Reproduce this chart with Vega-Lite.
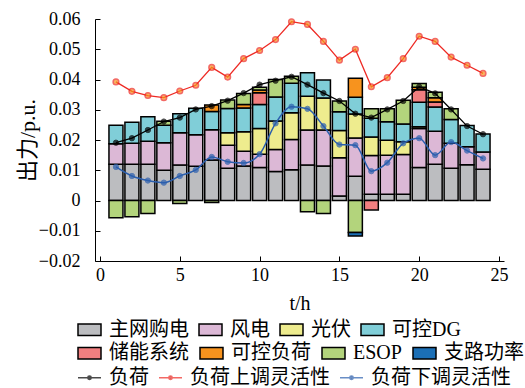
{
  "$schema": "https://vega.github.io/schema/vega-lite/v6.json",
  "autosize": {"type": "none"},
  "width": 409,
  "height": 242,
  "padding": {"left": 95, "top": 19, "right": 21, "bottom": 127},
  "background": "white",
  "config": {
    "view": {"stroke": null},
    "font": "'Liberation Serif', 'Noto Sans CJK SC'",
    "axis": {"grid": false, "domainColor": "black", "tickColor": "black", "labelColor": "black", "titleColor": "black", "labelFont": "'Liberation Serif'", "titleFont": "'Liberation Serif', 'Noto Sans CJK SC'", "labelFontSize": 18, "titleFontWeight": "normal", "domainWidth": 1, "tickWidth": 1},
    "legend": {"title": null, "orient": "none", "direction": "horizontal", "labelFont": "'Liberation Serif', 'Noto Sans CJK SC'", "labelFontSize": 20, "labelColor": "black", "labelOffset": 7, "columnPadding": 7, "padding": 0, "labelLimit": 200, "symbolSize": 529}
  },
  "datasets": {
    "bars": [
      {"h":1,"comp":"主网购电","k":0,"v":0.012},{"h":1,"comp":"风电","k":1,"v":0.0068},{"h":1,"comp":"可控DG","k":3,"v":0.0061},{"h":1,"comp":"ESOP","k":6,"v":-0.0057},
      {"h":2,"comp":"主网购电","k":0,"v":0.012},{"h":2,"comp":"风电","k":1,"v":0.0069},{"h":2,"comp":"可控DG","k":3,"v":0.007},{"h":2,"comp":"ESOP","k":6,"v":-0.0054},
      {"h":3,"comp":"主网购电","k":0,"v":0.012},{"h":3,"comp":"风电","k":1,"v":0.0076},{"h":3,"comp":"可控DG","k":3,"v":0.0081},{"h":3,"comp":"ESOP","k":6,"v":-0.0043},
      {"h":4,"comp":"主网购电","k":0,"v":0.010},{"h":4,"comp":"风电","k":1,"v":0.0091},{"h":4,"comp":"可控DG","k":3,"v":0.0058},{"h":4,"comp":"ESOP","k":6,"v":0.0013},
      {"h":5,"comp":"主网购电","k":0,"v":0.0117},{"h":5,"comp":"风电","k":1,"v":0.0107},{"h":5,"comp":"可控DG","k":3,"v":0.0063},{"h":5,"comp":"ESOP","k":6,"v":-0.001},
      {"h":6,"comp":"主网购电","k":0,"v":0.0113},{"h":6,"comp":"风电","k":1,"v":0.0104},{"h":6,"comp":"可控DG","k":3,"v":0.0088},
      {"h":7,"comp":"主网购电","k":0,"v":0.0134},{"h":7,"comp":"风电","k":1,"v":0.010},{"h":7,"comp":"可控DG","k":3,"v":0.006},{"h":7,"comp":"可控负荷","k":5,"v":0.0022},{"h":7,"comp":"ESOP","k":6,"v":-0.0007},
      {"h":8,"comp":"主网购电","k":0,"v":0.0107},{"h":8,"comp":"风电","k":1,"v":0.0076},{"h":8,"comp":"光伏","k":2,"v":0.0041},{"h":8,"comp":"可控DG","k":3,"v":0.008},{"h":8,"comp":"ESOP","k":6,"v":0.0028},
      {"h":9,"comp":"主网购电","k":0,"v":0.0114},{"h":9,"comp":"风电","k":1,"v":0.0049},{"h":9,"comp":"光伏","k":2,"v":0.0064},{"h":9,"comp":"可控DG","k":3,"v":0.0079},{"h":9,"comp":"可控负荷","k":5,"v":0.0011},{"h":9,"comp":"ESOP","k":6,"v":0.0037},
      {"h":10,"comp":"主网购电","k":0,"v":0.0109},{"h":10,"comp":"风电","k":1,"v":0.0044},{"h":10,"comp":"光伏","k":2,"v":0.0085},{"h":10,"comp":"可控DG","k":3,"v":0.0079},{"h":10,"comp":"储能系统","k":4,"v":0.0039},{"h":10,"comp":"可控负荷","k":5,"v":0.0009},{"h":10,"comp":"ESOP","k":6,"v":0.0009},
      {"h":11,"comp":"主网购电","k":0,"v":0.0096},{"h":11,"comp":"风电","k":1,"v":0.0073},{"h":11,"comp":"光伏","k":2,"v":0.0094},{"h":11,"comp":"可控DG","k":3,"v":0.0079},{"h":11,"comp":"ESOP","k":6,"v":0.0058},
      {"h":12,"comp":"主网购电","k":0,"v":0.0102},{"h":12,"comp":"风电","k":1,"v":0.010},{"h":12,"comp":"光伏","k":2,"v":0.0088},{"h":12,"comp":"可控DG","k":3,"v":0.0098},{"h":12,"comp":"ESOP","k":6,"v":0.0023},
      {"h":13,"comp":"主网购电","k":0,"v":0.0117},{"h":13,"comp":"风电","k":1,"v":0.0116},{"h":13,"comp":"光伏","k":2,"v":0.0112},{"h":13,"comp":"可控DG","k":3,"v":0.0077},{"h":13,"comp":"ESOP","k":6,"v":-0.0037},
      {"h":14,"comp":"主网购电","k":0,"v":0.0114},{"h":14,"comp":"风电","k":1,"v":0.0119},{"h":14,"comp":"光伏","k":2,"v":0.0106},{"h":14,"comp":"可控DG","k":3,"v":0.0059},{"h":14,"comp":"ESOP","k":6,"v":-0.0043},
      {"h":15,"comp":"主网购电","k":0,"v":0.0015},{"h":15,"comp":"风电","k":1,"v":0.0126},{"h":15,"comp":"光伏","k":2,"v":0.009},{"h":15,"comp":"可控DG","k":3,"v":0.0062},{"h":15,"comp":"ESOP","k":6,"v":0.0036},
      {"h":16,"comp":"主网购电","k":0,"v":0.008},{"h":16,"comp":"风电","k":1,"v":0.0127},{"h":16,"comp":"光伏","k":2,"v":0.0079},{"h":16,"comp":"可控DG","k":3,"v":0.0055},{"h":16,"comp":"可控负荷","k":5,"v":0.0063},{"h":16,"comp":"ESOP","k":6,"v":-0.0106},{"h":16,"comp":"支路功率","k":7,"v":-0.0011},
      {"h":17,"comp":"主网购电","k":0,"v":0.0021},{"h":17,"comp":"风电","k":1,"v":0.0128},{"h":17,"comp":"光伏","k":2,"v":0.0061},{"h":17,"comp":"可控DG","k":3,"v":0.0062},{"h":17,"comp":"储能系统","k":4,"v":-0.0031},{"h":17,"comp":"ESOP","k":6,"v":0.0031},
      {"h":18,"comp":"主网购电","k":0,"v":0.0021},{"h":18,"comp":"风电","k":1,"v":0.0129},{"h":18,"comp":"光伏","k":2,"v":0.0049},{"h":18,"comp":"可控DG","k":3,"v":0.0061},{"h":18,"comp":"ESOP","k":6,"v":0.0043},
      {"h":19,"comp":"主网购电","k":0,"v":0.0021},{"h":19,"comp":"风电","k":1,"v":0.0131},{"h":19,"comp":"光伏","k":2,"v":0.0042},{"h":19,"comp":"可控DG","k":3,"v":0.0059},{"h":19,"comp":"ESOP","k":6,"v":0.0078},
      {"h":20,"comp":"主网购电","k":0,"v":0.0109},{"h":20,"comp":"风电","k":1,"v":0.0129},{"h":20,"comp":"光伏","k":2,"v":0.0006},{"h":20,"comp":"可控DG","k":3,"v":0.0081},{"h":20,"comp":"储能系统","k":4,"v":0.0041},{"h":20,"comp":"可控负荷","k":5,"v":0.0008},{"h":20,"comp":"ESOP","k":6,"v":0.0013},
      {"h":21,"comp":"主网购电","k":0,"v":0.012},{"h":21,"comp":"风电","k":1,"v":0.0109},{"h":21,"comp":"可控DG","k":3,"v":0.008},{"h":21,"comp":"储能系统","k":4,"v":0.0017},{"h":21,"comp":"可控负荷","k":5,"v":0.0014},{"h":21,"comp":"ESOP","k":6,"v":0.0018},
      {"h":22,"comp":"主网购电","k":0,"v":0.0107},{"h":22,"comp":"风电","k":1,"v":0.0082},{"h":22,"comp":"可控DG","k":3,"v":0.0079},{"h":22,"comp":"ESOP","k":6,"v":0.0035},
      {"h":23,"comp":"主网购电","k":0,"v":0.0118},{"h":23,"comp":"风电","k":1,"v":0.006},{"h":23,"comp":"可控DG","k":3,"v":0.007},
      {"h":24,"comp":"主网购电","k":0,"v":0.0103},{"h":24,"comp":"风电","k":1,"v":0.0057},{"h":24,"comp":"可控DG","k":3,"v":0.006}
    ],
    "lines": [
      {"h":1,"s":"负荷","v":0.0191},{"h":2,"s":"负荷","v":0.0206},{"h":3,"s":"负荷","v":0.0233},{"h":4,"s":"负荷","v":0.0261},{"h":5,"s":"负荷","v":0.0274},{"h":6,"s":"负荷","v":0.0301},{"h":7,"s":"负荷","v":0.0312},{"h":8,"s":"负荷","v":0.033},{"h":9,"s":"负荷","v":0.0355},{"h":10,"s":"负荷","v":0.0383},{"h":11,"s":"负荷","v":0.0396},{"h":12,"s":"负荷","v":0.0409},{"h":13,"s":"负荷","v":0.0383},{"h":14,"s":"负荷","v":0.0355},{"h":15,"s":"负荷","v":0.0329},{"h":16,"s":"负荷","v":0.0287},{"h":17,"s":"负荷","v":0.0274},{"h":18,"s":"负荷","v":0.0301},{"h":19,"s":"负荷","v":0.0329},{"h":20,"s":"负荷","v":0.0376},{"h":21,"s":"负荷","v":0.0354},{"h":22,"s":"负荷","v":0.0301},{"h":23,"s":"负荷","v":0.0246},{"h":24,"s":"负荷","v":0.0219},
      {"h":1,"s":"负荷上调灵活性","v":0.0392},{"h":2,"s":"负荷上调灵活性","v":0.0361},{"h":3,"s":"负荷上调灵活性","v":0.0347},{"h":4,"s":"负荷上调灵活性","v":0.034},{"h":5,"s":"负荷上调灵活性","v":0.0362},{"h":6,"s":"负荷上调灵活性","v":0.0381},{"h":7,"s":"负荷上调灵活性","v":0.044},{"h":8,"s":"负荷上调灵活性","v":0.0408},{"h":9,"s":"负荷上调灵活性","v":0.0469},{"h":10,"s":"负荷上调灵活性","v":0.0496},{"h":11,"s":"负荷上调灵活性","v":0.0532},{"h":12,"s":"负荷上调灵活性","v":0.0591},{"h":13,"s":"负荷上调灵活性","v":0.0582},{"h":14,"s":"负荷上调灵活性","v":0.0526},{"h":15,"s":"负荷上调灵活性","v":0.0464},{"h":16,"s":"负荷上调灵活性","v":0.05},{"h":17,"s":"负荷上调灵活性","v":0.0376},{"h":18,"s":"负荷上调灵活性","v":0.0406},{"h":19,"s":"负荷上调灵活性","v":0.0469},{"h":20,"s":"负荷上调灵活性","v":0.0543},{"h":21,"s":"负荷上调灵活性","v":0.0526},{"h":22,"s":"负荷上调灵活性","v":0.0474},{"h":23,"s":"负荷上调灵活性","v":0.0447},{"h":24,"s":"负荷上调灵活性","v":0.042},
      {"h":1,"s":"负荷下调灵活性","v":0.0111},{"h":2,"s":"负荷下调灵活性","v":0.0081},{"h":3,"s":"负荷下调灵活性","v":0.0066},{"h":4,"s":"负荷下调灵活性","v":0.0059},{"h":5,"s":"负荷下调灵活性","v":0.0081},{"h":6,"s":"负荷下调灵活性","v":0.0101},{"h":7,"s":"负荷下调灵活性","v":0.0144},{"h":8,"s":"负荷下调灵活性","v":0.0128},{"h":9,"s":"负荷下调灵活性","v":0.0124},{"h":10,"s":"负荷下调灵活性","v":0.0153},{"h":11,"s":"负荷下调灵活性","v":0.0255},{"h":12,"s":"负荷下调灵活性","v":0.031},{"h":13,"s":"负荷下调灵活性","v":0.0303},{"h":14,"s":"负荷下调灵活性","v":0.0246},{"h":15,"s":"负荷下调灵活性","v":0.0185},{"h":16,"s":"负荷下调灵活性","v":0.0183},{"h":17,"s":"负荷下调灵活性","v":0.0097},{"h":18,"s":"负荷下调灵活性","v":0.0125},{"h":19,"s":"负荷下调灵活性","v":0.0189},{"h":20,"s":"负荷下调灵活性","v":0.0206},{"h":21,"s":"负荷下调灵活性","v":0.015},{"h":22,"s":"负荷下调灵活性","v":0.0193},{"h":23,"s":"负荷下调灵活性","v":0.0165},{"h":24,"s":"负荷下调灵活性","v":0.0139}
    ]
  },
  "encoding": {
    "x": {"field": "h", "type": "quantitative", "scale": {"domain": [0, 25], "nice": false},
      "axis": {"values": [0, 5, 10, 15, 20, 25], "tickSize": -5, "labelPadding": 10, "labelFlush": false, "labelOverlap": false, "title": "t/h", "titleFontSize": 20, "titleY": 42, "titleBaseline": "middle"}},
    "y": {"field": "v", "type": "quantitative", "scale": {"domain": [-0.02, 0.06], "nice": false, "zero": false},
      "axis": {"values": [-0.02, -0.01, 0, 0.01, 0.02, 0.03, 0.04, 0.05, 0.06], "format": ".2~f", "tickSize": -5, "labelPadding": 20, "labelOverlap": false, "title": "出力/p.u.", "titleFontSize": 22, "titleX": -68, "titleY": 121, "titleAngle": -90, "titleAlign": "center", "titleBaseline": "middle"}}
  },
  "layer": [
    {
      "data": {"name": "bars"},
      "transform": [
        {"stack": "v", "groupby": ["h"], "sort": [{"field": "k", "order": "ascending"}], "as": ["v0", "v1"]},
        {"filter": "datum.k < 4"}
      ],
      "mark": {"type": "bar", "size": 14, "stroke": "black", "strokeWidth": 1.5},
      "encoding": {
        "y": {"field": "v0", "type": "quantitative"},
        "y2": {"field": "v1"},
        "fill": {"field": "comp", "type": "nominal",
          "scale": {"domain": ["主网购电", "风电", "光伏", "可控DG"], "range": ["#bcbdc0", "#dcb8d6", "#eeec8e", "#80ced8"]},
          "legend": {"legendX": -18, "legendY": 298, "symbolType": "M-1,-0.5H1V0.5H-1Z", "symbolStrokeColor": "black", "symbolStrokeWidth": 1.5}}
      }
    },
    {
      "data": {"name": "bars"},
      "transform": [
        {"stack": "v", "groupby": ["h"], "sort": [{"field": "k", "order": "ascending"}], "as": ["v0", "v1"]},
        {"filter": "datum.k >= 4"}
      ],
      "mark": {"type": "bar", "size": 14, "stroke": "black", "strokeWidth": 1.5},
      "encoding": {
        "y": {"field": "v0", "type": "quantitative"},
        "y2": {"field": "v1"},
        "color": {"field": "comp", "type": "nominal",
          "scale": {"domain": ["储能系统", "可控负荷", "ESOP", "支路功率"], "range": ["#f27f80", "#f7931e", "#b3d47c", "#1b6fb6"]},
          "legend": {"legendX": -18, "legendY": 321.5, "columnPadding": 8, "symbolType": "M-1,-0.5H1V0.5H-1Z", "symbolStrokeColor": "black", "symbolStrokeWidth": 1.5}}
      }
    },
    {
      "mark": {"type": "rule", "color": "black", "strokeWidth": 1},
      "encoding": {"y": {"datum": 0}}
    },
    {
      "data": {"name": "lines"},
      "transform": [{"filter": "datum.s !== '负荷下调灵活性'"}],
      "mark": {"type": "line", "strokeWidth": 1.3},
      "encoding": {
        "stroke": {"field": "s", "type": "nominal",
          "scale": {"domain": ["负荷", "负荷上调灵活性", "负荷下调灵活性"], "range": ["#000000", "#ee2a24", "#2b5fae"]},
          "legend": {"legendX": -18, "legendY": 346,
            "symbolType": "M-1,0H1M-0.15,0A0.15,0.15,0,1,0,0.15,0A0.15,0.15,0,1,0,-0.15,0", "symbolStrokeWidth": 1.5}}
      }
    },
    {
      "data": {"name": "lines"},
      "transform": [{"filter": "datum.s === '负荷下调灵活性'"}],
      "mark": {"type": "line", "strokeWidth": 1.5, "interpolate": "monotone"},
      "encoding": {"stroke": {"field": "s", "type": "nominal"}}
    },
    {
      "data": {"name": "lines"},
      "transform": [{"filter": "datum.s === '负荷'"}],
      "mark": {"type": "point", "filled": true, "size": 28, "fill": "black", "strokeWidth": 1},
      "encoding": {"stroke": {"field": "s", "type": "nominal"}}
    },
    {
      "data": {"name": "lines"},
      "transform": [{"filter": "datum.s === '负荷上调灵活性'"}],
      "mark": {"type": "point", "filled": true, "size": 32, "fill": "#f7941e", "strokeWidth": 1.5},
      "encoding": {"stroke": {"field": "s", "type": "nominal"}}
    },
    {
      "data": {"name": "lines"},
      "transform": [{"filter": "datum.s === '负荷下调灵活性'"}],
      "mark": {"type": "point", "filled": true, "size": 28, "fill": "#2b5fae", "strokeWidth": 1},
      "encoding": {"stroke": {"field": "s", "type": "nominal"}}
    }
  ]
}
